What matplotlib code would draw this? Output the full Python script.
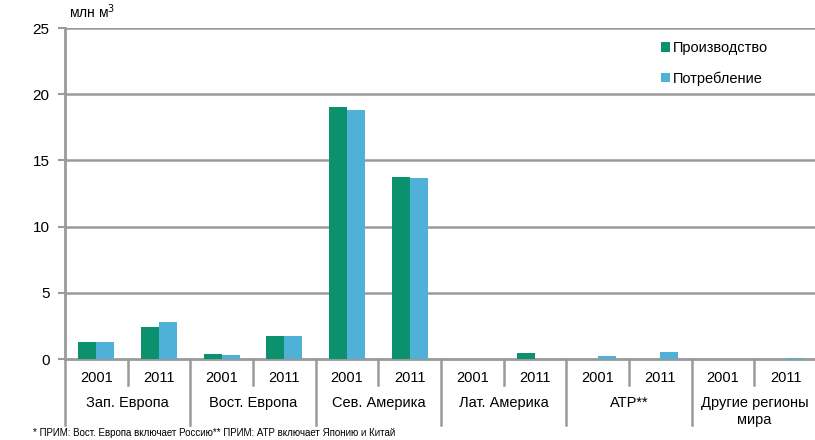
import matplotlib.pyplot as plt
import numpy as np

plt.rcParams['font.family'] = ['Liberation Sans', 'DejaVu Sans']

regions = ['Зап. Европа', 'Вост. Европа', 'Сев. Америка', 'Лат. Америка', 'АТР**', 'Другие регионы\nмира']
years = ['2001', '2011']
production = [1.3, 2.4, 0.35, 1.7, 19.05, 13.75, 0.0, 0.45, 0.0, 0.0, 0.0, 0.0]
consumption = [1.3, 2.8, 0.3, 1.75, 18.8, 13.65, 0.0, 0.0, 0.25, 0.5, 0.0, 0.1]
yticks = [0, 5, 10, 15, 20, 25]
footnote = '* ПРИМ: Вост. Европа включает Россию** ПРИМ: АТР включает Японию и Китай'

green = '#0b916d'
blue = '#4fb0d8'
gray = '#9a9a9a'

fig = plt.figure(figsize=(8.15, 4.4), dpi=100)
ax = fig.add_axes([65/815, 81/440, 752/815, 331/440])

x = np.arange(len(production))
w = 0.285
ax.bar(x - w/2, production, width=w, color=green, label='Производство', zorder=3)
ax.bar(x + w/2, consumption, width=w, color=blue, label='Потребление', zorder=3)

ax.set_xlim(-0.5, len(production) - 0.5)
ax.set_ylim(0, 25)
ax.set_yticks(yticks)
ax.tick_params(axis='y', labelsize=11, length=5, width=1.5, color=gray, pad=6)
for t in yticks[1:]:
    ax.axhline(t, color=gray, lw=1.8, zorder=1)

for s in ['top', 'right']:
    ax.spines[s].set_visible(False)
for s in ['left', 'bottom']:
    ax.spines[s].set_color(gray)
    ax.spines[s].set_linewidth(2)

# two-level category axis drawn by hand
ax.set_xticks([])
tr = ax.get_xaxis_transform()
for i in range(len(production)):
    ax.text(i, -0.056, years[i % 2], transform=tr, ha='center', va='center', fontsize=10.5)
for i in range(len(production) + 1):
    bottom = -0.2 if i % 2 == 0 else -0.08
    ax.plot([i - 0.5, i - 0.5], [0, bottom], transform=tr, color=gray, lw=1.8, clip_on=False)
for j, r in enumerate(regions):
    ax.text(2*j + 0.5, -0.113, r, transform=tr, ha='center', va='top', fontsize=10.5, linespacing=1.25)

ax.text(0.005, 1.02, 'млн м$^3$', transform=ax.transAxes, fontsize=10, ha='left', va='bottom')

ax.legend(loc='upper right', bbox_to_anchor=(0.952, 1.0), frameon=False, fontsize=10.5,
          handlelength=0.6, handleheight=0.6, handletextpad=0.2, labelspacing=1.1)

fig.text(33/815, 1 - 433/440, footnote, fontsize=7, ha='left', va='center')

fig.savefig('out.png', dpi=100)
